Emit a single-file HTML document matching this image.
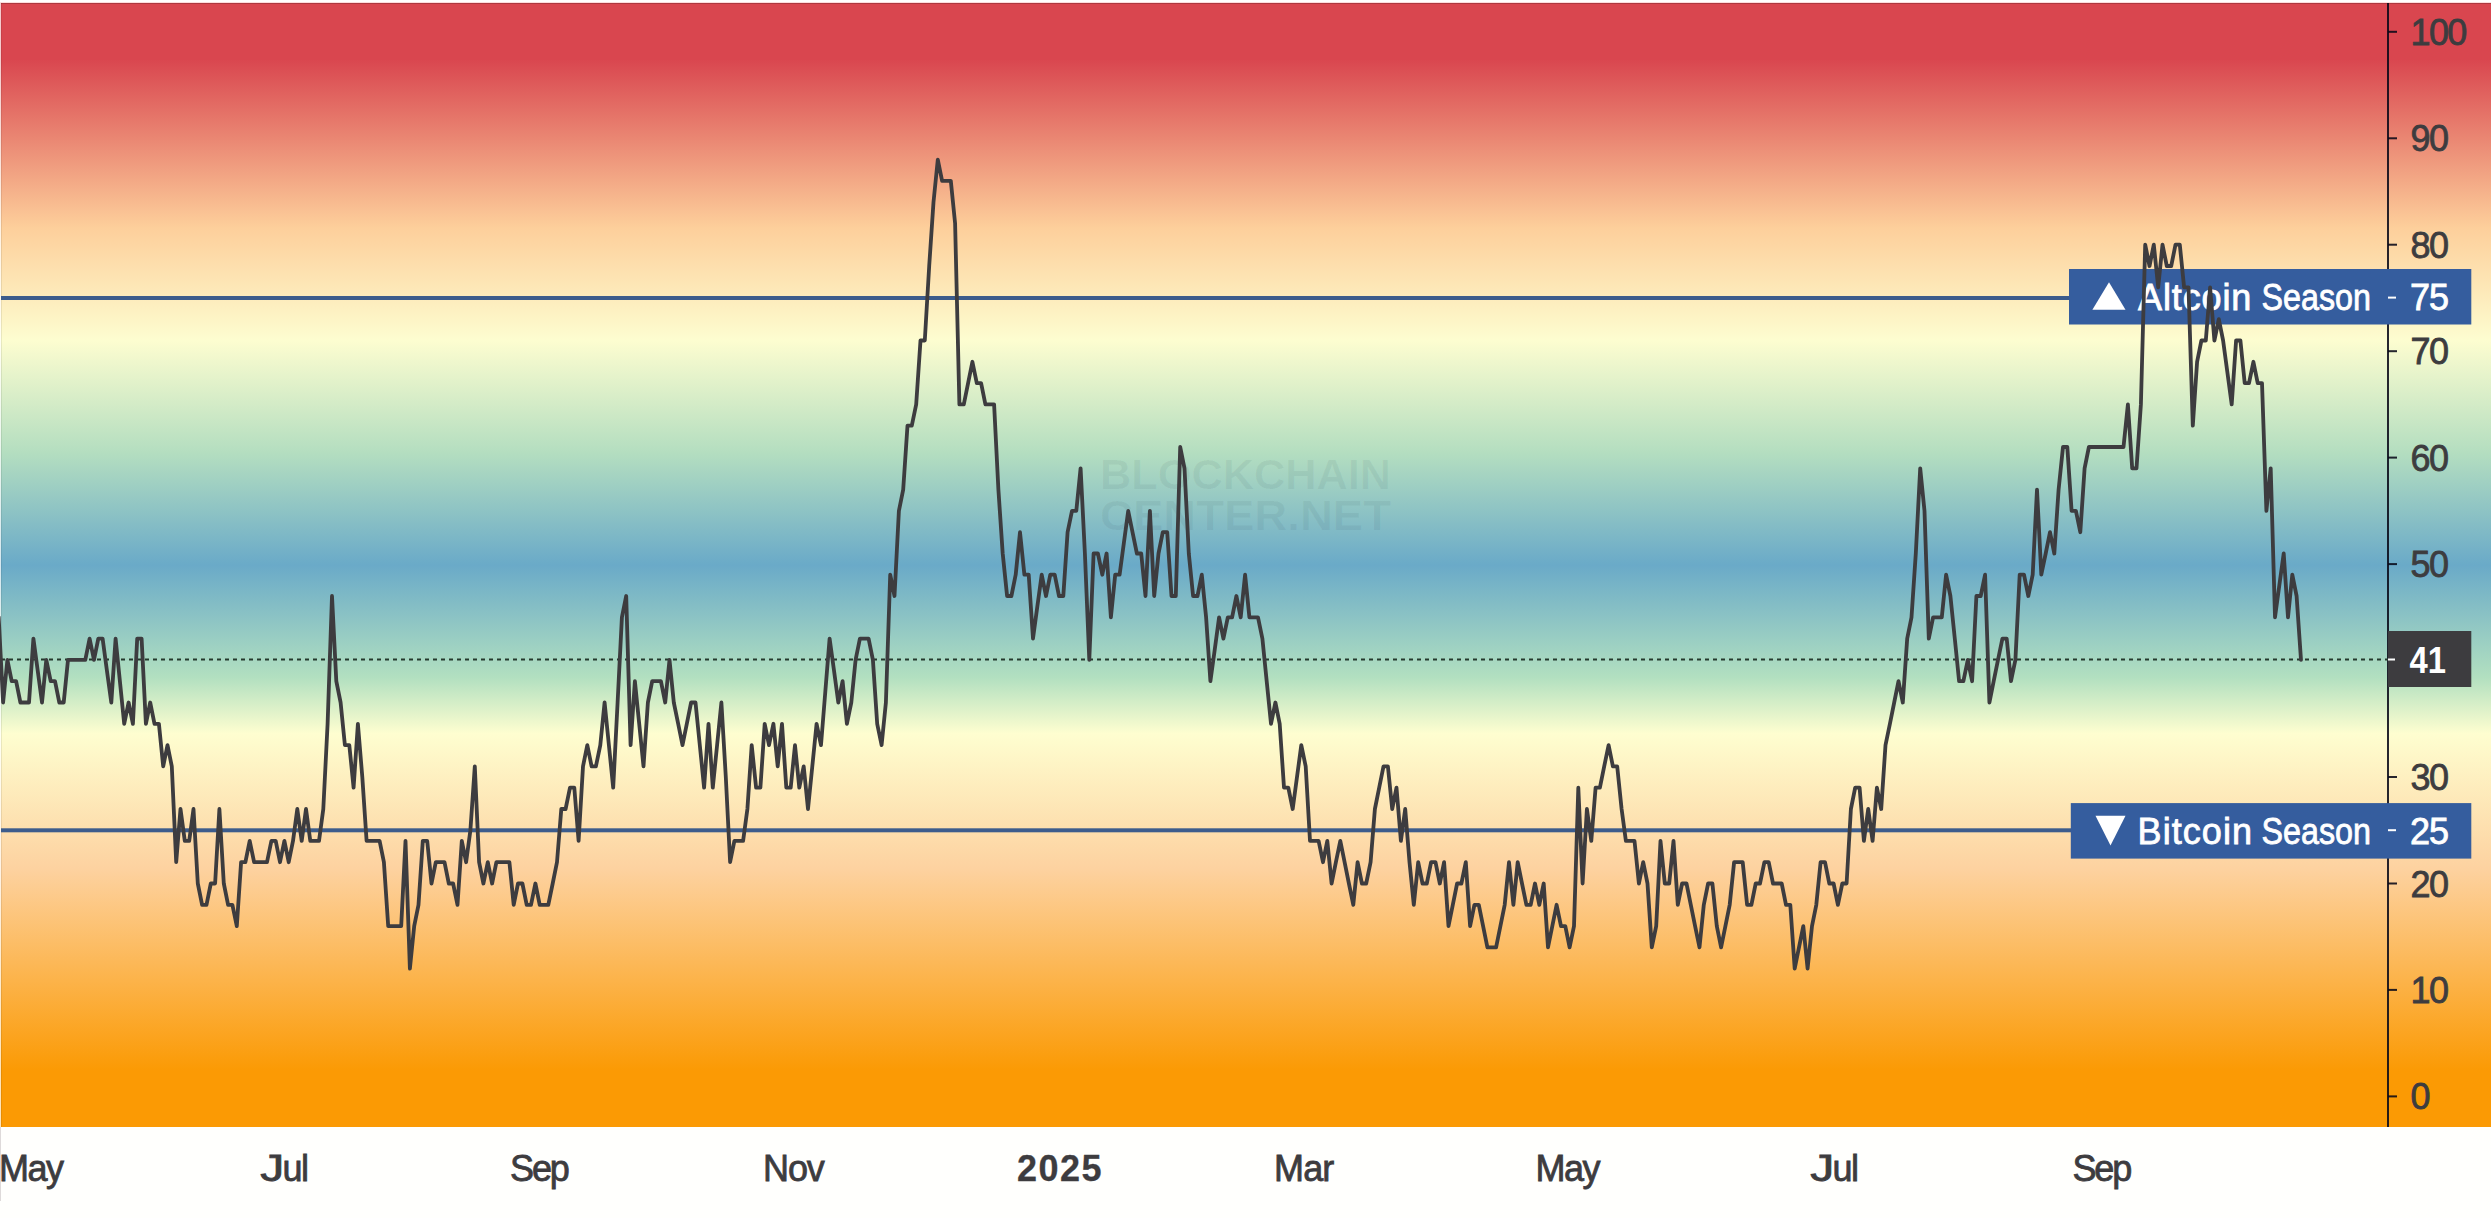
<!DOCTYPE html>
<html><head><meta charset="utf-8"><title>Altcoin Season Index</title>
<style>
html,body{margin:0;padding:0;}
body{width:2491px;height:1218px;overflow:hidden;background:#fffffd;position:relative;font-family:"Liberation Sans", sans-serif;}
#top{position:absolute;left:0;top:0;width:2491px;height:3px;background:linear-gradient(to bottom,#fffefe 0,#fffefe 2px,#fddcdc 2px,#fddcdc 3px);}
#lcol{position:absolute;left:0;top:3px;width:1px;height:1124px;background:rgba(255,255,255,0.72);}
#lline{position:absolute;left:0;top:1127px;width:1px;height:74px;background:#dedada;}
#bg{position:absolute;left:0px;top:3px;width:2491px;height:1124px;
background:linear-gradient(to bottom,#d9464f 0%,#d9464f 5%,#fdcf9b 20%,#fdfdd0 30%,#b4dec0 40%,#6aaac8 50%,#b2e0c0 60%,#fefed0 65%,#fdd2a0 77%,#fb9a04 95%,#fb9a04 100%);}
svg{position:absolute;left:0;top:0;}
text{font-family:"Liberation Sans", sans-serif;}
.ax{font-size:36px;fill:#3d3c3f;letter-spacing:-1.6px;stroke:#3d3c3f;stroke-width:0.8px;}
.tm{font-size:36px;fill:#3d3c3f;letter-spacing:-1px;stroke:#3d3c3f;stroke-width:0.8px;}
.b{font-weight:bold;stroke-width:0.3px;}
.lb{font-size:36px;fill:#ffffff;letter-spacing:-1px;stroke:#ffffff;stroke-width:0.8px;}
.wm{font-size:43px;font-weight:bold;fill:rgba(20,40,60,0.06);}
</style></head><body>
<div id="top"></div>
<div id="bg"></div>
<div id="lcol"></div>
<div id="lline"></div>
<svg width="2491" height="1218" viewBox="0 0 2491 1218">
<rect x="1" y="3" width="2490" height="1" fill="rgba(0,0,0,0.2)"/>
<rect x="1" y="3" width="1" height="1124" fill="rgba(0,0,0,0.08)"/>
<g id="watermark">
<text x="1100" y="489" class="wm" textLength="291" lengthAdjust="spacingAndGlyphs">BLOCKCHAIN</text>
<text x="1100" y="530" class="wm" textLength="291" lengthAdjust="spacingAndGlyphs">CENTER.NET</text>
</g>
<rect x="2387" y="3" width="2" height="1124" fill="rgba(8,8,24,0.88)"/>
<rect x="2388" y="1095.4" width="9" height="2" fill="rgba(8,8,24,0.88)"/>
<text x="2410.5" y="1109.4" class="ax">0</text>
<rect x="2388" y="988.9" width="9" height="2" fill="rgba(8,8,24,0.88)"/>
<text x="2410.5" y="1002.9" class="ax">10</text>
<rect x="2388" y="882.5" width="9" height="2" fill="rgba(8,8,24,0.88)"/>
<text x="2410.5" y="896.5" class="ax">20</text>
<rect x="2388" y="776.0" width="9" height="2" fill="rgba(8,8,24,0.88)"/>
<text x="2410.5" y="790.0" class="ax">30</text>
<rect x="2388" y="563.1" width="9" height="2" fill="rgba(8,8,24,0.88)"/>
<text x="2410.5" y="577.1" class="ax">50</text>
<rect x="2388" y="456.6" width="9" height="2" fill="rgba(8,8,24,0.88)"/>
<text x="2410.5" y="470.6" class="ax">60</text>
<rect x="2388" y="350.2" width="9" height="2" fill="rgba(8,8,24,0.88)"/>
<text x="2410.5" y="364.2" class="ax">70</text>
<rect x="2388" y="243.7" width="9" height="2" fill="rgba(8,8,24,0.88)"/>
<text x="2410.5" y="257.7" class="ax">80</text>
<rect x="2388" y="137.3" width="9" height="2" fill="rgba(8,8,24,0.88)"/>
<text x="2410.5" y="151.3" class="ax">90</text>
<rect x="2388" y="30.8" width="9" height="2" fill="rgba(8,8,24,0.88)"/>
<text x="2410.5" y="44.8" class="ax">100</text>

<g id="alt">
<rect x="1" y="296" width="2070" height="4" fill="#3c5c8c"/>
<rect x="2069" y="269" width="402.3" height="55.5" fill="#355d9e"/>
<polygon points="2092.4,309.8 2125.5,309.8 2109,282.3" fill="#ffffff"/>
<text y="309.8" class="lb"><tspan x="2138" style="letter-spacing:0.88px">Altcoin</tspan> <tspan x="2261.6" style="letter-spacing:0" textLength="109.3" lengthAdjust="spacingAndGlyphs">Season</tspan></text>
<rect x="2388" y="296.6" width="8" height="2" fill="#ffffff"/>
<text x="2410" y="309.8" class="lb">75</text>
</g>
<g id="btc">
<rect x="1" y="828.3" width="2071" height="4" fill="#3c5c8c"/>
<rect x="2070.8" y="803.1" width="400.5" height="55.5" fill="#355d9e"/>
<polygon points="2095.5,815.8 2125.5,815.8 2110.5,845.4" fill="#ffffff"/>
<text y="844.1" class="lb"><tspan x="2137.6" style="letter-spacing:1.05px">Bitcoin</tspan> <tspan x="2261.6" style="letter-spacing:0" textLength="109.3" lengthAdjust="spacingAndGlyphs">Season</tspan></text>
<rect x="2388" y="829.2" width="8" height="2" fill="#ffffff"/>
<text x="2410" y="844.1" class="lb">25</text>
</g>
<line x1="1" y1="659.5" x2="2388" y2="659.5" stroke="#24382c" stroke-width="2" stroke-dasharray="4 4"/>
<polyline fill="none" stroke="#3d3c3f" stroke-width="3.8" stroke-linejoin="round" stroke-linecap="round" points="-1.3,617.3 3.1,702.5 7.4,659.9 11.7,681.2 16.1,681.2 20.4,702.5 24.7,702.5 29.0,702.5 33.4,638.6 37.7,670.6 42.0,702.5 46.3,659.9 50.7,681.2 55.0,681.2 59.3,702.5 63.7,702.5 68.0,659.9 72.3,659.9 76.6,659.9 81.0,659.9 85.3,659.9 89.6,638.6 94.0,659.9 98.3,638.6 102.6,638.6 106.9,670.6 111.3,702.5 115.6,638.6 119.9,681.2 124.2,723.8 128.6,702.5 132.9,723.8 137.2,638.6 141.6,638.6 145.9,723.8 150.2,702.5 154.5,723.8 158.9,723.8 163.2,766.4 167.5,745.1 171.8,766.4 176.2,862.2 180.5,809.0 184.8,840.9 189.2,840.9 193.5,809.0 197.8,883.5 202.1,904.8 206.5,904.8 210.8,883.5 215.1,883.5 219.4,809.0 223.8,883.5 228.1,904.8 232.4,904.8 236.8,926.1 241.1,862.2 245.4,862.2 249.7,840.9 254.1,862.2 258.4,862.2 262.7,862.2 267.0,862.2 271.4,840.9 275.7,840.9 280.0,862.2 284.4,840.9 288.7,862.2 293.0,840.9 297.3,809.0 301.7,840.9 306.0,809.0 310.3,840.9 314.7,840.9 319.0,840.9 323.3,809.0 327.6,723.8 332.0,596.0 336.3,681.2 340.6,702.5 344.9,745.1 349.3,745.1 353.6,787.7 357.9,723.8 362.3,777.0 366.6,840.9 370.9,840.9 375.2,840.9 379.6,840.9 383.9,862.2 388.2,926.1 392.5,926.1 396.9,926.1 401.2,926.1 405.5,840.9 409.9,968.6 414.2,926.1 418.5,904.8 422.8,840.9 427.2,840.9 431.5,883.5 435.8,862.2 440.1,862.2 444.5,862.2 448.8,883.5 453.1,883.5 457.5,904.8 461.8,840.9 466.1,862.2 470.4,830.2 474.8,766.4 479.1,862.2 483.4,883.5 487.8,862.2 492.1,883.5 496.4,862.2 500.7,862.2 505.1,862.2 509.4,862.2 513.7,904.8 518.0,883.5 522.4,883.5 526.7,904.8 531.0,904.8 535.4,883.5 539.7,904.8 544.0,904.8 548.3,904.8 552.7,883.5 557.0,862.2 561.3,809.0 565.6,809.0 570.0,787.7 574.3,787.7 578.6,840.9 583.0,766.4 587.3,745.1 591.6,766.4 595.9,766.4 600.3,745.1 604.6,702.5 608.9,745.1 613.2,787.7 617.6,702.5 621.9,617.3 626.2,596.0 630.6,745.1 634.9,681.2 639.2,723.8 643.5,766.4 647.9,702.5 652.2,681.2 656.5,681.2 660.9,681.2 665.2,702.5 669.5,659.9 673.8,702.5 678.2,723.8 682.5,745.1 686.8,723.8 691.1,702.5 695.5,702.5 699.8,745.1 704.1,787.7 708.5,723.8 712.8,787.7 717.1,745.1 721.4,702.5 725.8,777.0 730.1,862.2 734.4,840.9 738.7,840.9 743.1,840.9 747.4,809.0 751.7,745.1 756.1,787.7 760.4,787.7 764.7,723.8 769.0,745.1 773.4,723.8 777.7,766.4 782.0,723.8 786.3,787.7 790.7,787.7 795.0,745.1 799.3,787.7 803.7,766.4 808.0,809.0 812.3,766.4 816.6,723.8 821.0,745.1 825.3,691.9 829.6,638.6 834.0,670.6 838.3,702.5 842.6,681.2 846.9,723.8 851.3,702.5 855.6,659.9 859.9,638.6 864.2,638.6 868.6,638.6 872.9,659.9 877.2,723.8 881.6,745.1 885.9,702.5 890.2,574.7 894.5,596.0 898.9,510.9 903.2,489.6 907.5,425.7 911.8,425.7 916.2,404.4 920.5,340.5 924.8,340.5 929.2,266.0 933.5,202.1 937.8,159.6 942.1,180.8 946.5,180.8 950.8,180.8 955.1,223.4 959.4,404.4 963.8,404.4 968.1,383.1 972.4,361.8 976.8,383.1 981.1,383.1 985.4,404.4 989.7,404.4 994.1,404.4 998.4,489.6 1002.7,553.5 1007.1,596.0 1011.4,596.0 1015.7,574.7 1020.0,532.2 1024.4,574.7 1028.7,574.7 1033.0,638.6 1037.3,606.7 1041.7,574.7 1046.0,596.0 1050.3,574.7 1054.7,574.7 1059.0,596.0 1063.3,596.0 1067.6,532.2 1072.0,510.9 1076.3,510.9 1080.6,468.3 1084.9,553.5 1089.3,659.9 1093.6,553.5 1097.9,553.5 1102.3,574.7 1106.6,553.5 1110.9,617.3 1115.2,574.7 1119.6,574.7 1123.9,542.8 1128.2,510.9 1132.5,532.2 1136.9,553.5 1141.2,553.5 1145.5,596.0 1149.9,510.9 1154.2,596.0 1158.5,553.5 1162.8,532.2 1167.2,532.2 1171.5,596.0 1175.8,596.0 1180.2,447.0 1184.5,468.3 1188.8,553.5 1193.1,596.0 1197.5,596.0 1201.8,574.7 1206.1,617.3 1210.4,681.2 1214.8,649.3 1219.1,617.3 1223.4,638.6 1227.8,617.3 1232.1,617.3 1236.4,596.0 1240.7,617.3 1245.1,574.7 1249.4,617.3 1253.7,617.3 1258.0,617.3 1262.4,638.6 1266.7,681.2 1271.0,723.8 1275.4,702.5 1279.7,723.8 1284.0,787.7 1288.3,787.7 1292.7,809.0 1297.0,777.0 1301.3,745.1 1305.7,766.4 1310.0,840.9 1314.3,840.9 1318.6,840.9 1323.0,862.2 1327.3,840.9 1331.6,883.5 1335.9,862.2 1340.3,840.9 1344.6,862.2 1348.9,883.5 1353.3,904.8 1357.6,862.2 1361.9,883.5 1366.2,883.5 1370.6,862.2 1374.9,809.0 1379.2,787.7 1383.5,766.4 1387.9,766.4 1392.2,809.0 1396.5,787.7 1400.9,840.9 1405.2,809.0 1409.5,862.2 1413.8,904.8 1418.2,862.2 1422.5,883.5 1426.8,883.5 1431.1,862.2 1435.5,862.2 1439.8,883.5 1444.1,862.2 1448.5,926.1 1452.8,904.8 1457.1,883.5 1461.4,883.5 1465.8,862.2 1470.1,926.1 1474.4,904.8 1478.8,904.8 1483.1,926.1 1487.4,947.4 1491.7,947.4 1496.1,947.4 1500.4,926.1 1504.7,904.8 1509.0,862.2 1513.4,904.8 1517.7,862.2 1522.0,883.5 1526.4,904.8 1530.7,904.8 1535.0,883.5 1539.3,904.8 1543.7,883.5 1548.0,947.4 1552.3,926.1 1556.6,904.8 1561.0,926.1 1565.3,926.1 1569.6,947.4 1574.0,926.1 1578.3,787.7 1582.6,883.5 1586.9,809.0 1591.3,840.9 1595.6,787.7 1599.9,787.7 1604.2,766.4 1608.6,745.1 1612.9,766.4 1617.2,766.4 1621.6,809.0 1625.9,840.9 1630.2,840.9 1634.5,840.9 1638.9,883.5 1643.2,862.2 1647.5,883.5 1651.8,947.4 1656.2,926.1 1660.5,840.9 1664.8,883.5 1669.2,883.5 1673.5,840.9 1677.8,904.8 1682.1,883.5 1686.5,883.5 1690.8,904.8 1695.1,926.1 1699.5,947.4 1703.8,904.8 1708.1,883.5 1712.4,883.5 1716.8,926.1 1721.1,947.4 1725.4,926.1 1729.7,904.8 1734.1,862.2 1738.4,862.2 1742.7,862.2 1747.1,904.8 1751.4,904.8 1755.7,883.5 1760.0,883.5 1764.4,862.2 1768.7,862.2 1773.0,883.5 1777.3,883.5 1781.7,883.5 1786.0,904.8 1790.3,904.8 1794.7,968.6 1799.0,947.4 1803.3,926.1 1807.6,968.6 1812.0,926.1 1816.3,904.8 1820.6,862.2 1825.0,862.2 1829.3,883.5 1833.6,883.5 1837.9,904.8 1842.3,883.5 1846.6,883.5 1850.9,809.0 1855.2,787.7 1859.6,787.7 1863.9,840.9 1868.2,809.0 1872.6,840.9 1876.9,787.7 1881.2,809.0 1885.5,745.1 1889.9,723.8 1894.2,702.5 1898.5,681.2 1902.8,702.5 1907.2,638.6 1911.5,617.3 1915.8,553.5 1920.2,468.3 1924.5,510.9 1928.8,638.6 1933.1,617.3 1937.5,617.3 1941.8,617.3 1946.1,574.7 1950.4,596.0 1954.8,638.6 1959.1,681.2 1963.4,681.2 1967.8,659.9 1972.1,681.2 1976.4,596.0 1980.7,596.0 1985.1,574.7 1989.4,702.5 1993.7,681.2 1998.0,659.9 2002.4,638.6 2006.7,638.6 2011.0,681.2 2015.4,659.9 2019.7,574.7 2024.0,574.7 2028.3,596.0 2032.7,574.7 2037.0,489.6 2041.3,574.7 2045.7,553.5 2050.0,532.2 2054.3,553.5 2058.6,489.6 2063.0,447.0 2067.3,447.0 2071.6,510.9 2075.9,510.9 2080.3,532.2 2084.6,468.3 2088.9,447.0 2093.3,447.0 2097.6,447.0 2101.9,447.0 2106.2,447.0 2110.6,447.0 2114.9,447.0 2119.2,447.0 2123.5,447.0 2127.9,404.4 2132.2,468.3 2136.5,468.3 2140.9,404.4 2145.2,244.7 2149.5,266.0 2153.8,244.7 2158.2,287.3 2162.5,244.7 2166.8,266.0 2171.2,266.0 2175.5,244.7 2179.8,244.7 2184.1,287.3 2188.5,287.3 2192.8,425.7 2197.1,361.8 2201.4,340.5 2205.8,340.5 2210.1,287.3 2214.4,340.5 2218.8,319.2 2223.1,340.5 2227.4,372.5 2231.7,404.4 2236.1,340.5 2240.4,340.5 2244.7,383.1 2249.0,383.1 2253.4,361.8 2257.7,383.1 2262.0,383.1 2266.4,510.9 2270.7,468.3 2275.0,617.3 2279.3,585.4 2283.7,553.5 2288.0,617.3 2292.3,574.7 2296.6,596.0 2301.0,659.9"/>
<g id="last">
<rect x="2388" y="631" width="83.3" height="56" fill="#3d3c3f"/>
<rect x="2388" y="658.5" width="7" height="2" fill="#ffffff"/>
<text x="2409.6" y="672.5" class="lb b" style="letter-spacing:0;stroke:none" textLength="36.5" lengthAdjust="spacingAndGlyphs">41</text>
</g>
<text x="-1" y="1180.7" class="tm" style="letter-spacing:-1.5px">May</text>
<text y="1180.7" class="tm"><tspan x="260.3" style="letter-spacing:0" textLength="24" lengthAdjust="spacingAndGlyphs">J</tspan><tspan x="282.5" style="letter-spacing:-1.5px">ul</tspan></text>
<text x="510" y="1180.7" class="tm" style="letter-spacing:-2.1px">Sep</text>
<text x="763" y="1180.7" class="tm" style="letter-spacing:-1.1px">Nov</text>
<text x="1017" y="1180.7" class="tm b" style="letter-spacing:1.47px">2025</text>
<text x="1274" y="1180.7" class="tm" style="letter-spacing:-0.85px">Mar</text>
<text x="1535.6" y="1180.7" class="tm" style="letter-spacing:-1.5px">May</text>
<text y="1180.7" class="tm"><tspan x="1810.3" style="letter-spacing:0" textLength="24" lengthAdjust="spacingAndGlyphs">J</tspan><tspan x="1832.5" style="letter-spacing:-1.5px">ul</tspan></text>
<text x="2072.4" y="1180.7" class="tm" style="letter-spacing:-2.1px">Sep</text>

</svg>
</body></html>
